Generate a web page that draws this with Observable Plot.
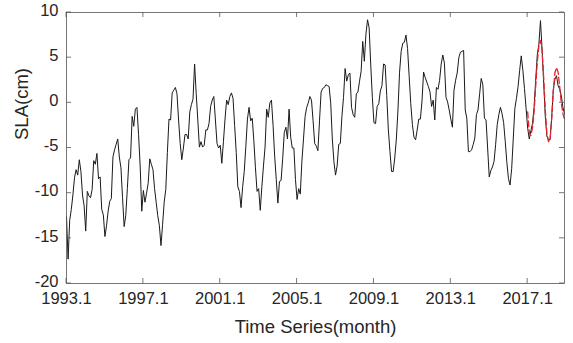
<!DOCTYPE html>
<html>
<head>
<meta charset="utf-8">
<script src="https://cdn.jsdelivr.net/npm/d3@7"></script>
<script src="https://cdn.jsdelivr.net/npm/@observablehq/plot@0.6"></script>
<style>
  html, body { margin: 0; padding: 0; background: #fff; }
  svg { display: block; }
</style>
</head>
<body>
<div id="chart"></div>
<script>
// Monthly SLA (cm), 1993.1 .. 2018.12 (312 months)
const slaObserved = [
  -12.6, -17.3, -13.0, -11.8, -10.2, -8.3, -7.4, -8.0, -6.3, -7.6,
  -10.2, -11.4, -14.2, -9.8, -10.3, -10.5, -9.6, -6.4, -6.8, -5.6,
  -8.4, -8.2, -11.8, -12.4, -14.8, -13.6, -12.0, -10.9, -10.6, -6.0,
  -5.2, -4.6, -4.0, -6.0, -7.2, -10.5, -13.7, -12.5, -9.5, -6.3,
  -6.1, -1.5, -2.6, -0.7, -0.5, -3.5, -7.0, -12.0, -9.7, -11.0,
  -10.0, -8.9, -6.2, -6.8, -7.4, -9.5, -11.0, -12.5, -13.6, -15.8,
  -13.5, -11.0, -9.6, -5.5, -1.8, -1.9, 1.1, 1.4, 1.7, 1.0,
  -1.9, -4.5, -6.3, -5.0, -3.5, -3.5, -4.0, -1.0, -0.2, 0.4,
  4.3, 1.0, -1.9, -4.9, -4.3, -4.9, -4.7, -3.0,
  -3.0, -2.3, -0.4, 0.3, 0.7, -1.9, -4.5, -5.0, -4.7, -6.7,
  -4.3, -1.8, 0.3, -0.2, 0.7, 1.1, 0.5, -2.5, -5.5, -9.3,
  -9.8, -11.6, -9.3, -7.6, -4.8, -1.8, -0.5, -2.0, -1.7, -4.2,
  -7.2, -9.8, -9.5, -11.9, -9.3, -7.0, -4.9, -0.7, -1.6, 0.0,
  0.3, -2.5, -5.9, -8.5, -11.1,
  -8.7, -8.6, -6.2, -3.3, -2.7, -4.0, -0.7, -3.8, -5.0, -5.0,
  -8.5, -10.7, -9.5, -10.1, -6.5, -4.0, -1.5, -0.5, 0.0, 0.7,
  0.3, -2.0, -4.5, -4.8, -5.3, -2.0, 1.2, 1.6, 1.7, 2.0,
  1.9, 1.8, 0.0, -4.0, -6.5, -8.0, -7.0, -4.6, -4.5, -1.5,
  0.6, 3.8, 2.4, 3.1, 3.3,
  -0.5, -1.3, -1.6, 1.0, 1.2, 2.4, 3.5, 6.8, 4.6, 7.6,
  9.2, 8.3, 4.2, 0.6, -2.2, -2.3, -0.4, -0.1, 1.3, 1.9,
  4.3, 4.2, 0.8, -3.0, -5.4, -7.6, -7.6, -6.1, -4.0, -0.8,
  3.4, 5.7, 6.6, 6.7, 7.5, 6.0, 2.9, -0.1, -2.4, -3.8,
  -4.1, -3.0, -1.8, -1.8, 0.2,
  3.4, 2.8, 2.3, 1.8, 1.2, -0.4, 0.3, -1.9, 1.7, 1.5,
  2.5, 4.3, 5.3, 4.4, 0.6, 0.1, -0.8, -1.8, -2.7, 1.4,
  2.5, 3.3, 5.0, 5.6, 5.7, 5.8, -0.8, -1.7, -5.4, -5.4,
  -5.2, -4.6, -3.9, -1.3, -0.8, 1.0, 2.7, 2.0, -1.7, -1.9,
  -5.0, -8.2, -7.5, -7.1, -6.5, -4.6, -2.4, -1.3, -0.5, -1.2,
  -2.2, -4.3, -6.6, -8.4, -9.1, -7.3, -4.0, -0.6, 0.5, 1.8,
  3.6, 5.2, 3.6, 1.6, -0.6, -2.8, -4.0, -3.1, -2.3, -0.5,
  2.5, 5.3, 6.5, 9.1, 5.9, 2.2, -1.5, -3.7, -4.1, -4.1,
  -1.6, 1.4, 2.6, 3.0, 1.9, 1.5, 0.8, -0.5, -1.2
];

// Predicted SLA (red dashed), from month index 288 (2017.1) to 311
const predStart = 288;
const slaPredicted = [
  -1.0, -3.3, -3.6, -2.8, -1.0, 1.8, 4.5, 6.3, 6.9, 5.8,
  2.8, -0.8, -3.4, -4.3, -4.0, -1.8, 1.3, 3.3, 3.9, 3.4,
  1.8, 0.0, -1.2, -1.8
];

const xTickMonths = [0, 48, 96, 144, 192, 240, 288];
const xTickLabels = ["1993.1", "1997.1", "2001.1", "2005.1", "2009.1", "2013.1", "2017.1"];
const yTicks = [-20, -15, -10, -5, 0, 5, 10];

const obs = slaObserved.map((v, i) => ({m: i, v}));
const pred = slaPredicted.map((v, i) => ({m: predStart + i, v}));

const axisColor = "#262626";
const frameColor = "#555";
const font = "'Liberation Sans', Arial, Helvetica, sans-serif";

const inwardTicks = (index, scales, values, dims) => {
  const {x, y} = scales;
  const {width, height, marginTop, marginRight, marginBottom, marginLeft} = dims;
  const g = d3.create("svg:g").attr("stroke", frameColor).attr("stroke-width", 0.8).attr("fill", "none");
  const L = 5;
  const bottom = height - marginBottom, right = width - marginRight;
  for (const t of xTickMonths) {
    const px = x(t);
    g.append("line").attr("x1", px).attr("x2", px).attr("y1", bottom).attr("y2", bottom - L);
    g.append("line").attr("x1", px).attr("x2", px).attr("y1", marginTop).attr("y2", marginTop + L);
  }
  for (const t of yTicks) {
    const py = y(t);
    g.append("line").attr("x1", marginLeft).attr("x2", marginLeft + L).attr("y1", py).attr("y2", py);
    g.append("line").attr("x1", right).attr("x2", right - L).attr("y1", py).attr("y2", py);
  }
  return g.node();
};

const chart = Plot.plot({
  width: 573,
  height: 343,
  marginLeft: 66,
  marginRight: 9,
  marginTop: 12,
  marginBottom: 60,
  style: {fontFamily: font, background: "#fff", color: axisColor},
  x: {domain: [0, 311]},
  y: {domain: [-20, 10]},
  marks: [
    Plot.line(obs, {x: "m", y: "v", stroke: "#1a1a1a", strokeWidth: 1}),
    Plot.line(pred, {x: "m", y: "v", stroke: "#e8212b", strokeWidth: 1.3, strokeDasharray: "6,3"}),
    Plot.frame({stroke: frameColor, strokeWidth: 0.8}),
    inwardTicks,
    Plot.axisX(xTickMonths, {tickSize: 0, tickPadding: 9, fontSize: 16.5, fill: axisColor,
      tickFormat: (d) => xTickLabels[xTickMonths.indexOf(d)], label: null}),
    Plot.axisY(yTicks, {tickSize: 0, tickPadding: 8, fontSize: 16.5, fill: axisColor, dy: -2,
      tickFormat: (d) => String(d), label: null}),
    Plot.text(["Time Series(month)"], {frameAnchor: "bottom", dy: 44, fontSize: 18.5, fill: axisColor, lineAnchor: "middle"}),
    Plot.text(["SLA(cm)"], {frameAnchor: "left", dx: -44, dy: -8, rotate: -90, fontSize: 18.5, fill: axisColor, lineAnchor: "middle"})
  ]
});
document.getElementById("chart").appendChild(chart);
</script>
</body>
</html>
